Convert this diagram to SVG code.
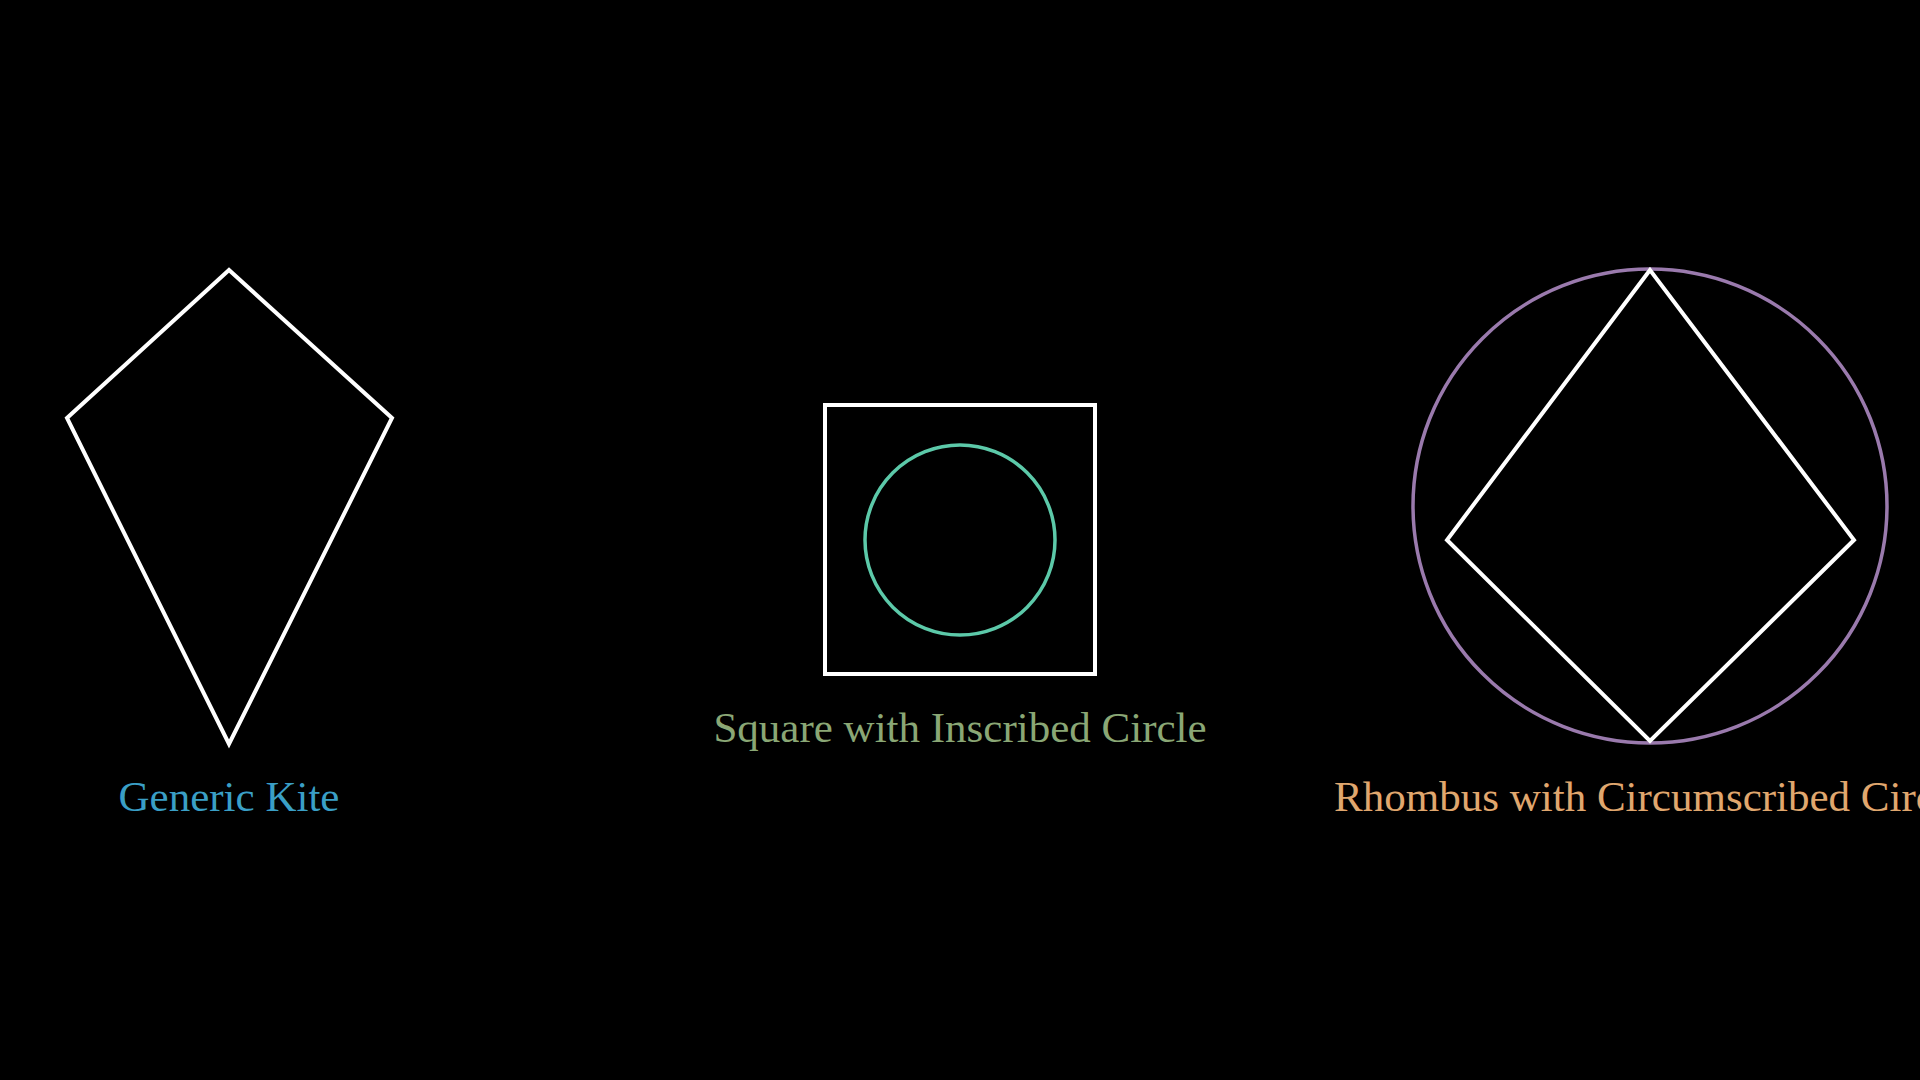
<svg xmlns="http://www.w3.org/2000/svg" width="1920" height="1080" viewBox="0 0 1920 1080">
<style>
.shape{fill:none;stroke:#ffffff;stroke-width:4;stroke-linejoin:miter}
.lbl{font-family:"Liberation Serif","DejaVu Serif",serif;font-size:43px;text-anchor:middle}
</style>
<rect width="1920" height="1080" fill="#000000"/>
<g id="kite">
<polygon class="shape" points="229,270 67,418 229,744 392,418"/>
<text class="lbl" x="229" y="811" fill="#3a9fc6">Generic Kite</text>
</g>
<g id="square">
<rect class="shape" x="825" y="405" width="270" height="269"/>
<circle cx="960" cy="540" r="95" fill="none" stroke="#5cc9a9" stroke-width="3.5"/>
<text class="lbl" x="960" y="742" fill="#8aa775">Square with Inscribed Circle</text>
</g>
<g id="rhombus">
<circle cx="1650" cy="506" r="237" fill="none" stroke="#9a7aad" stroke-width="3.5"/>
<polygon class="shape" points="1650,270 1447,540 1650,741 1854,540"/>
<text class="lbl" x="1650" y="811" fill="#e0a76e">Rhombus with Circumscribed Circle</text>
</g>
<g id="connectors"/>
</svg>
